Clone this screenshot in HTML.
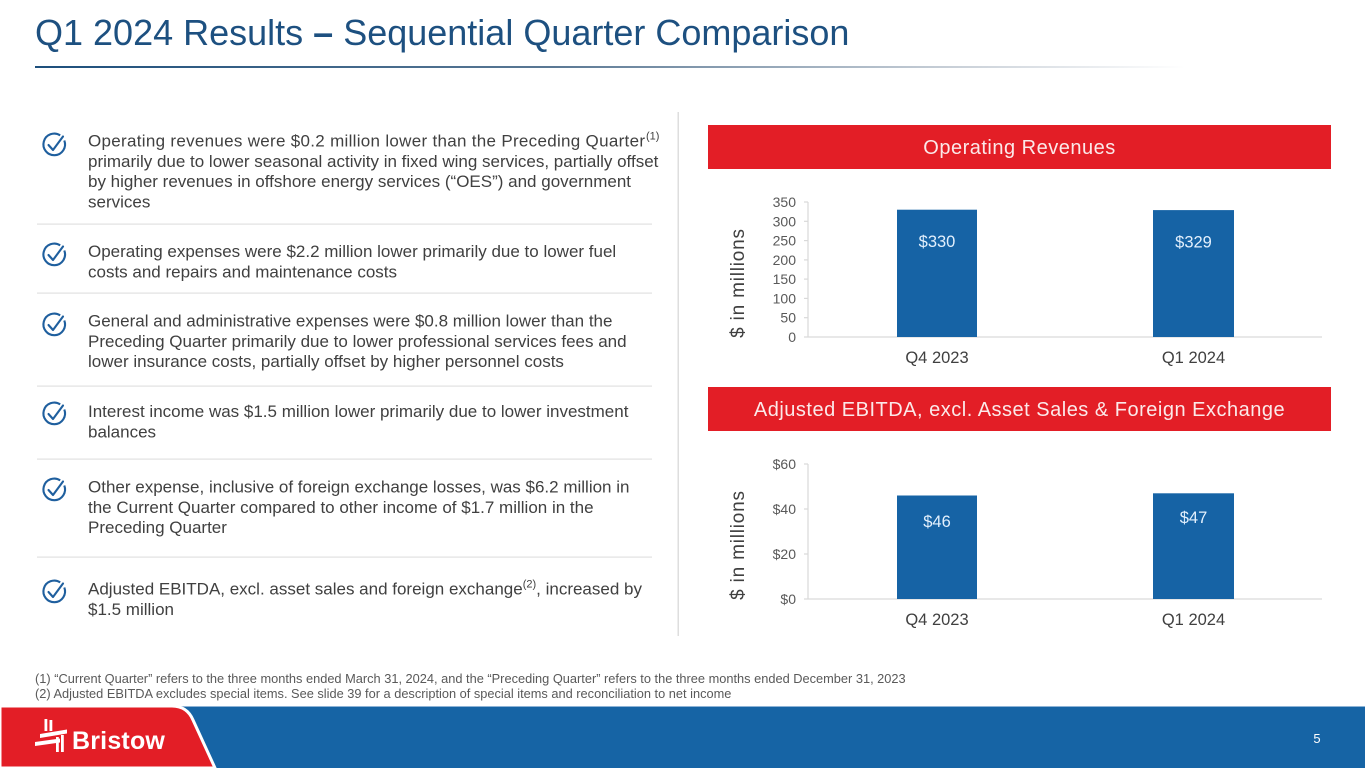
<!DOCTYPE html>
<html><head><meta charset="utf-8"><style>
html,body{margin:0;padding:0;background:#fff;}
svg{display:block;}
text{font-family:"Liberation Sans",Arial,sans-serif;}
</style></head><body>
<svg width="1365" height="768" viewBox="0 0 1365 768" xmlns="http://www.w3.org/2000/svg">
<defs>
<linearGradient id="ul" x1="0" x2="1" y1="0" y2="0">
<stop offset="0" stop-color="#1d4f7c"/>
<stop offset="0.45" stop-color="#5a7894"/>
<stop offset="0.8" stop-color="#c9d0d8"/>
<stop offset="1" stop-color="#ffffff"/>
</linearGradient>
<g id="chk">
<path d="M64.3,139.5 A10.8,10.8 0 1 1 60.2,134.4" fill="none" stroke="#1f5f9e" stroke-width="2.1"/>
<path d="M48.5,144 L53,149 L63,135.5" fill="none" stroke="#1f5f9e" stroke-width="2.1" stroke-linecap="round" stroke-linejoin="round"/>
</g>
</defs>

<!-- Title -->
<text x="35" y="45" font-size="36" fill="#1d5080">Q1 2024 Results <tspan font-weight="bold">–</tspan> Sequential Quarter Comparison</text>
<rect x="35" y="66" width="1150" height="2" fill="url(#ul)"/>

<!-- divider -->
<rect x="677.5" y="112" width="1.5" height="524" fill="#dedede"/>

<!-- separators -->
<g fill="#e2e2e2">
<rect x="37" y="223.5" width="615" height="1.2"/>
<rect x="37" y="292.5" width="615" height="1.2"/>
<rect x="37" y="385.5" width="615" height="1.2"/>
<rect x="37" y="458.5" width="615" height="1.2"/>
<rect x="37" y="556.5" width="615" height="1.2"/>
</g>

<!-- check icons -->
<use href="#chk" transform="translate(0,1)"/>
<use href="#chk" transform="translate(0,111)"/>
<use href="#chk" transform="translate(0,181)"/>
<use href="#chk" transform="translate(0,270)"/>
<use href="#chk" transform="translate(0,346)"/>
<use href="#chk" transform="translate(0,448)"/>

<!-- bullet text -->
<g font-size="17" fill="#404040">
<text x="88" y="146.5" textLength="557" lengthAdjust="spacing">Operating revenues were $0.2 million lower than the Preceding Quarter</text>
<text x="646" y="139.5" font-size="11">(1)</text>
<text x="88" y="166.8">primarily due to lower seasonal activity in fixed wing services, partially offset</text>
<text x="88" y="187.1">by higher revenues in offshore energy services (“OES”) and government</text>
<text x="88" y="207.4">services</text>

<text x="88" y="257">Operating expenses were $2.2 million lower primarily due to lower fuel</text>
<text x="88" y="277.3">costs and repairs and maintenance costs</text>

<text x="88" y="326.5">General and administrative expenses were $0.8 million lower than the</text>
<text x="88" y="346.8">Preceding Quarter primarily due to lower professional services fees and</text>
<text x="88" y="367.1">lower insurance costs, partially offset by higher personnel costs</text>

<text x="88" y="417">Interest income was $1.5 million lower primarily due to lower investment</text>
<text x="88" y="437.3">balances</text>

<text x="88" y="492.5">Other expense, inclusive of foreign exchange losses, was $6.2 million in</text>
<text x="88" y="512.8">the Current Quarter compared to other income of $1.7 million in the</text>
<text x="88" y="533.1">Preceding Quarter</text>

<text x="88" y="594.5">Adjusted EBITDA, excl. asset sales and foreign exchange<tspan font-size="11" dy="-7">(2)</tspan><tspan dy="7">, increased by</tspan></text>
<text x="88" y="614.8">$1.5 million</text>
</g>

<!-- header bars -->
<rect x="708" y="125" width="623" height="44" fill="#e31e26"/>
<text x="1019.5" y="154" font-size="20" letter-spacing="0.5" fill="#fbe9e9" text-anchor="middle">Operating Revenues</text>
<rect x="708" y="387" width="623" height="44" fill="#e31e26"/>
<text x="1019.5" y="416" font-size="20" letter-spacing="0.5" fill="#fbe9e9" text-anchor="middle">Adjusted EBITDA, excl. Asset Sales &amp; Foreign Exchange</text>

<!-- Chart 1 -->
<g stroke="#d9d9d9" stroke-width="1.2">
<line x1="808" y1="202" x2="808" y2="337"/>
<line x1="804" y1="337" x2="1322" y2="337"/>
<line x1="804" y1="202" x2="808" y2="202"/>
<line x1="804" y1="221.3" x2="808" y2="221.3"/>
<line x1="804" y1="240.6" x2="808" y2="240.6"/>
<line x1="804" y1="259.9" x2="808" y2="259.9"/>
<line x1="804" y1="279.1" x2="808" y2="279.1"/>
<line x1="804" y1="298.4" x2="808" y2="298.4"/>
<line x1="804" y1="317.7" x2="808" y2="317.7"/>
</g>
<g font-size="14" fill="#595959" text-anchor="end">
<text x="796" y="207">350</text>
<text x="796" y="226.3">300</text>
<text x="796" y="245.6">250</text>
<text x="796" y="264.9">200</text>
<text x="796" y="284.1">150</text>
<text x="796" y="303.4">100</text>
<text x="796" y="322.7">50</text>
<text x="796" y="342">0</text>
</g>
<rect x="897" y="209.7" width="80" height="127.3" fill="#1663a5"/>
<rect x="1153" y="210.1" width="81" height="126.9" fill="#1663a5"/>
<g font-size="16.5" fill="#e3f0fd" text-anchor="middle">
<text x="937" y="247">$330</text>
<text x="1193.5" y="247.5">$329</text>
</g>
<g font-size="16.5" fill="#404040" text-anchor="middle">
<text x="937" y="363">Q4 2023</text>
<text x="1193.5" y="363">Q1 2024</text>
</g>
<text transform="translate(744,283) rotate(-90)" font-size="19" letter-spacing="0.8" fill="#404040" text-anchor="middle">$ in millions</text>

<!-- Chart 2 -->
<g stroke="#d9d9d9" stroke-width="1.2">
<line x1="808" y1="464" x2="808" y2="599"/>
<line x1="804" y1="599" x2="1322" y2="599"/>
<line x1="804" y1="464" x2="808" y2="464"/>
<line x1="804" y1="509" x2="808" y2="509"/>
<line x1="804" y1="554" x2="808" y2="554"/>
</g>
<g font-size="14" fill="#595959" text-anchor="end">
<text x="796" y="469">$60</text>
<text x="796" y="514">$40</text>
<text x="796" y="559">$20</text>
<text x="796" y="604">$0</text>
</g>
<rect x="897" y="495.5" width="80" height="103.5" fill="#1663a5"/>
<rect x="1153" y="493.3" width="81" height="105.7" fill="#1663a5"/>
<g font-size="16.5" fill="#e3f0fd" text-anchor="middle">
<text x="937" y="527">$46</text>
<text x="1193.5" y="523">$47</text>
</g>
<g font-size="16.5" fill="#404040" text-anchor="middle">
<text x="937" y="625">Q4 2023</text>
<text x="1193.5" y="625">Q1 2024</text>
</g>
<text transform="translate(744,545) rotate(-90)" font-size="19" letter-spacing="0.8" fill="#404040" text-anchor="middle">$ in millions</text>

<!-- footnotes -->
<g font-size="12.8" fill="#595959">
<text x="35" y="683">(1) “Current Quarter” refers to the three months ended March 31, 2024, and the “Preceding Quarter” refers to the three months ended December 31, 2023</text>
<text x="35" y="698">(2) Adjusted EBITDA excludes special items. See slide 39 for a description of special items and reconciliation to net income</text>
</g>

<!-- footer -->
<rect x="0" y="706" width="1365" height="62" fill="#1664a5"/>
<rect x="0" y="706" width="1365" height="1" fill="#8db3d6"/>
<path d="M0,706 H172 Q187,706 193,720 L215,768 H0 Z" fill="#e31e26" stroke="#ffffff" stroke-width="3"/>
<rect x="0" y="704" width="176" height="2" fill="#ffffff"/>
<!-- logo icon -->
<g fill="#ffffff">
<rect x="44.5" y="719" width="2.8" height="12"/>
<rect x="49.5" y="720" width="2.8" height="11"/>
<polygon points="40,734 67,729.5 67,733.5 40,738"/>
<polygon points="35,742 60,738.5 60,742.5 35,746"/>
<rect x="56" y="737" width="2.8" height="15"/>
<rect x="61" y="735" width="2.8" height="17"/>
</g>
<text x="72" y="749" font-size="25" font-weight="bold" letter-spacing="0.2" fill="#ffffff">Bristow</text>
<text x="1317" y="743" font-size="13" fill="#ffffff" text-anchor="middle">5</text>
</svg>
</body></html>
